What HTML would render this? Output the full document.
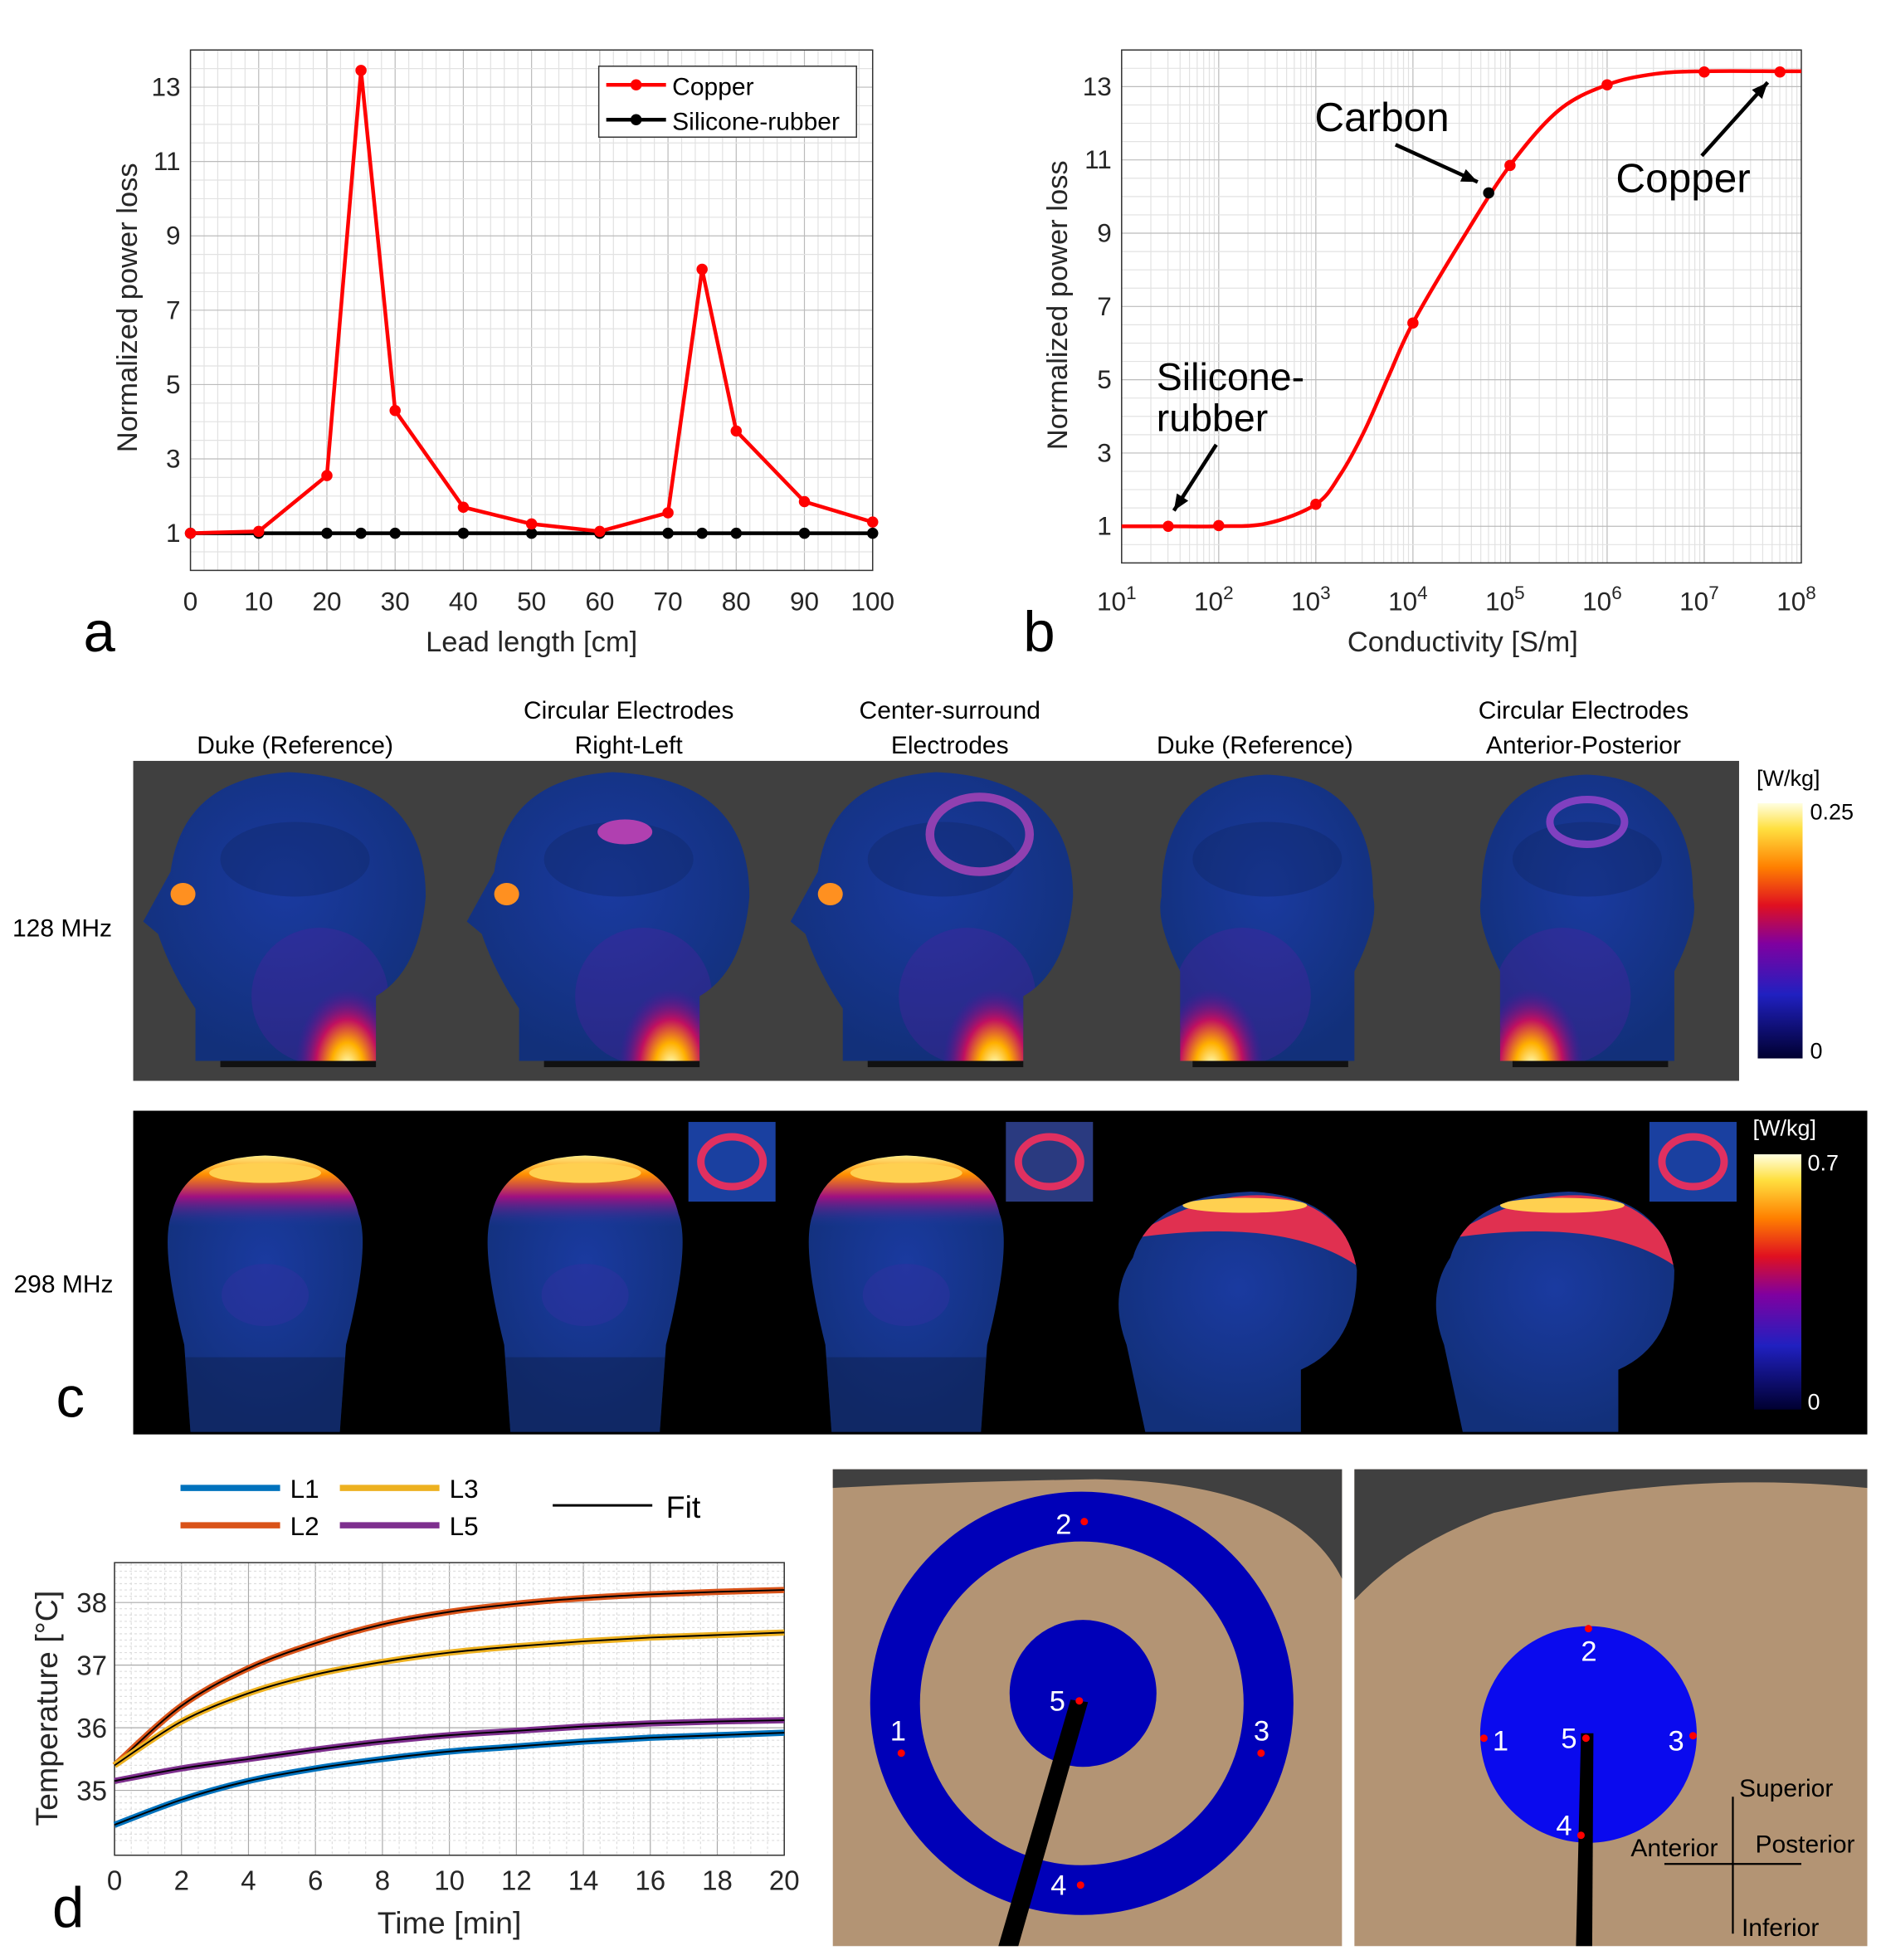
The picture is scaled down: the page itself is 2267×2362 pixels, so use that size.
<!DOCTYPE html>
<html><head><meta charset="utf-8"><style>
html,body{margin:0;padding:0;background:#fff}
svg{display:block;font-family:"Liberation Sans","DejaVu Sans",sans-serif}
</style></head><body>
<svg id="s" xmlns="http://www.w3.org/2000/svg" width="2267" height="2362" viewBox="0 0 1511 1574">
<defs id="defs">
<linearGradient id="cb1" x1="0" y1="1" x2="0" y2="0"><stop offset="0" stop-color="#000030"/><stop offset="0.25" stop-color="#2020c0"/><stop offset="0.45" stop-color="#8000a0"/><stop offset="0.6" stop-color="#e01020"/><stop offset="0.75" stop-color="#ff8000"/><stop offset="0.9" stop-color="#ffe040"/><stop offset="1" stop-color="#ffffe0"/></linearGradient>
<radialGradient id="hb" cx="0.5" cy="0.4" r="0.6"><stop offset="0" stop-color="#1a3aa0"/><stop offset="1" stop-color="#12307a"/></radialGradient>
<radialGradient id="hot2" cx="0.5" cy="0.5" r="0.5"><stop offset="0" stop-color="#ffffc0"/><stop offset="0.3" stop-color="#ffb000"/><stop offset="0.6" stop-color="#c01060"/><stop offset="1" stop-color="#5010a0" stop-opacity="0"/></radialGradient>
<linearGradient id="cap" x1="0" y1="0" x2="0" y2="1"><stop offset="0" stop-color="#ffffa0"/><stop offset="0.3" stop-color="#ff9000"/><stop offset="0.6" stop-color="#a01080"/><stop offset="1" stop-color="#1a3aa0" stop-opacity="0"/></linearGradient>
</defs>
<g id="pa"></g><g id="pb"></g><g id="pc"></g><g id="pd"></g><g id="pe"></g>
</svg>
<script>
const NS="http://www.w3.org/2000/svg";
function E(p,t,a,txt){const e=document.createElementNS(NS,t);for(const k in a)e.setAttribute(k,a[k]);if(txt!==undefined)e.textContent=txt;p.appendChild(e);return e;}
// ---- data panel a
const aX=[0,10,20,25,30,40,50,60,70,75,80,90,100];
const aCopper=[1,1.05,2.55,13.45,4.3,1.7,1.25,1.05,1.55,8.1,3.75,1.85,1.3];
const aSilicone=[1,1,1,1,1,1,1,1,1,1,1,1,1];
const aXTicks=[0,10,20,30,40,50,60,70,80,90,100];
const yTicks=[1,3,5,7,9,11,13];
// ---- data panel b
const bCurveLog=[1,1.5,2,2.5,3,3.25,3.5,3.75,4,4.5,5,5.5,6,6.5,7,7.8,8];
const bCurveVal=[1,1,1.0,1.08,1.6,2.4,3.6,5.1,6.55,8.8,10.85,12.35,13.05,13.35,13.42,13.42,13.42];
const bPtsLog=[1.48,2,3,4,5,6,7,7.78];
const bPtsVal=[1.0,1.02,1.6,6.55,10.85,13.05,13.4,13.4];
const bCarbonLog=[4.78], bCarbonVal=[10.1];
const bXTicks=[1,2,3,4,5,6,7,8];
// ---- data panel d
const dT=[0,2,4,6,8,10,12,14,16,18,20];
const dL1=[34.45,34.85,35.15,35.35,35.5,35.62,35.7,35.78,35.84,35.88,35.92];
const dL2=[35.4,36.35,36.95,37.35,37.65,37.85,37.98,38.07,38.13,38.17,38.2];
const dL3=[35.4,36.1,36.55,36.85,37.05,37.2,37.3,37.38,37.44,37.48,37.52];
const dL5=[35.15,35.35,35.5,35.65,35.78,35.88,35.95,36.02,36.07,36.1,36.12];
const dXTicks=[0,2,4,6,8,10,12,14,16,18,20];
const dYTicks=[35,36,37,38];

function smooth(pts){let d="M"+pts[0][0]+","+pts[0][1];for(let i=0;i<pts.length-1;i++){const p0=pts[i-1]||pts[i],p1=pts[i],p2=pts[i+1],p3=pts[i+2]||p2;d+=` C${p1[0]+(p2[0]-p0[0])/6},${p1[1]+(p2[1]-p0[1])/6} ${p2[0]-(p3[0]-p1[0])/6},${p2[1]-(p3[1]-p1[1])/6} ${p2[0]},${p2[1]}`;}return d;}
const defs=document.getElementById('defs');let clipN=0;
function clipGroup(parent,d){const id='cp'+(clipN++);const cp=E(defs,'clipPath',{id:id});E(cp,'path',{d:d});E(parent,'path',{d:d,fill:'url(#hb)'});return E(parent,'g',{'clip-path':`url(#${id})`});}

// ===== Panel a
(function(){
const g=document.getElementById('pa');
const L=153,R=701,T=40,B=458;const X=v=>L+(v/100)*(R-L);const Y=v=>B-(v/14)*(B-T);
E(g,'rect',{x:L,y:T,width:R-L,height:B-T,fill:'#fff'});
for(let v=0;v<=100;v+=2){E(g,'line',{x1:X(v),x2:X(v),y1:T,y2:B,stroke:v%10==0?'#bbb':'#e2e2e2','stroke-width':0.8});}
for(let v=0;v<=14;v+=0.5){E(g,'line',{x1:L,x2:R,y1:Y(v),y2:Y(v),stroke:(v%2==1)?'#bbb':'#e2e2e2','stroke-width':0.8});}
E(g,'rect',{x:L,y:T,width:R-L,height:B-T,fill:'none',stroke:'#333','stroke-width':1});
aXTicks.forEach(v=>{const t=E(g,'text',{x:X(v),y:490,'text-anchor':'middle','font-size':21,fill:'#262626'},v);});
yTicks.forEach(v=>{const t=E(g,'text',{x:145,y:Y(v)+7,'text-anchor':'end','font-size':21,fill:'#262626'},v);});
const xt=E(g,'text',{x:427,y:523,'text-anchor':'middle','font-size':23,fill:'#262626'},'Lead length [cm]');
const yt=E(g,'text',{x:0,y:0,transform:`translate(110,247) rotate(-90)`,'text-anchor':'middle','font-size':23,fill:'#262626'},'Normalized power loss');
const sl=E(g,'polyline',{points:aX.map((x,i)=>X(x)+','+Y(aSilicone[i])).join(' '),fill:'none',stroke:'#000','stroke-width':3});
aX.forEach((x,i)=>{const c=E(g,'circle',{cx:X(x),cy:Y(aSilicone[i]),r:4.5,fill:'#000'});});
const cl=E(g,'polyline',{points:aX.map((x,i)=>X(x)+','+Y(aCopper[i])).join(' '),fill:'none',stroke:'#f00','stroke-width':3});
aX.forEach((x,i)=>{const c=E(g,'circle',{cx:X(x),cy:Y(aCopper[i]),r:4.5,fill:'#f00'});});
const lg=E(g,'g',{});
E(lg,'rect',{x:481,y:53,width:207,height:57,fill:'#fff',stroke:'#333'});
E(lg,'line',{x1:487,x2:535,y1:68,y2:68,stroke:'#f00','stroke-width':3});E(lg,'circle',{cx:511,cy:68,r:4.5,fill:'#f00'});
E(lg,'text',{x:540,y:76,'font-size':20},'Copper');
E(lg,'line',{x1:487,x2:535,y1:96,y2:96,stroke:'#000','stroke-width':3});E(lg,'circle',{cx:511,cy:96,r:4.5,fill:'#000'});
E(lg,'text',{x:540,y:104,'font-size':20},'Silicone-rubber');
E(g,'text',{x:67,y:523,'font-size':46},'a');
})();

// ===== Panel b
(function(){
const g=document.getElementById('pb');
const L=901,R=1447,T=40,B=452;const X=v=>L+((v-1)/7)*(R-L);const Y=v=>B-(v/14)*(B-T);
E(g,'rect',{x:L,y:T,width:R-L,height:B-T,fill:'#fff'});
for(let d=1;d<8;d++)for(let k=1;k<10;k++){const v=d+Math.log10(k);E(g,'line',{x1:X(v),x2:X(v),y1:T,y2:B,stroke:k==1?'#bbb':'#e2e2e2','stroke-width':0.8});}
for(let v=0;v<=14;v+=0.5){E(g,'line',{x1:L,x2:R,y1:Y(v),y2:Y(v),stroke:(v%2==1)?'#bbb':'#e2e2e2','stroke-width':0.8});}
E(g,'rect',{x:L,y:T,width:R-L,height:B-T,fill:'none',stroke:'#333'});
bXTicks.forEach(v=>{const t=E(g,'text',{x:X(v)-4,y:490,'text-anchor':'middle','font-size':21,fill:'#262626'});
E(t,'tspan',{},'10');E(t,'tspan',{dy:-9,'font-size':15},v);});
yTicks.forEach(v=>{const t=E(g,'text',{x:893,y:Y(v)+7,'text-anchor':'end','font-size':21,fill:'#262626'},v);});
const xt=E(g,'text',{x:1175,y:523,'text-anchor':'middle','font-size':23,fill:'#262626'},'Conductivity [S/m]');
const yt=E(g,'text',{x:0,y:0,transform:`translate(857,245) rotate(-90)`,'text-anchor':'middle','font-size':23,fill:'#262626'},'Normalized power loss');
const c=E(g,'path',{d:smooth(bCurveLog.map((x,i)=>[X(x),Y(bCurveVal[i])])),fill:'none',stroke:'#f00','stroke-width':3});
bPtsLog.forEach((x,i)=>{const p=E(g,'circle',{cx:X(x),cy:Y(bPtsVal[i]),r:4.5,fill:'#f00'});});
bCarbonLog.forEach((x,i)=>{const p=E(g,'circle',{cx:X(x),cy:Y(bCarbonVal[i]),r:4.5,fill:'#000'});});
E(g,'text',{x:1056,y:105,'font-size':33},'Carbon');
E(g,'text',{x:1298,y:154,'font-size':33},'Copper');
E(g,'text',{x:929,y:313,'font-size':31},'Silicone-');E(g,'text',{x:929,y:346,'font-size':31},'rubber');
[[1121,116,1187,146],[1367,125,1420,66],[977,357,943,410]].forEach(a=>{E(g,'line',{x1:a[0],y1:a[1],x2:a[2],y2:a[3],stroke:'#000','stroke-width':3});const ang=Math.atan2(a[3]-a[1],a[2]-a[0]);const s=14;E(g,'polygon',{points:`${a[2]},${a[3]} ${a[2]-s*Math.cos(ang-0.4)},${a[3]-s*Math.sin(ang-0.4)} ${a[2]-s*Math.cos(ang+0.4)},${a[3]-s*Math.sin(ang+0.4)}`,fill:'#000'});});
E(g,'text',{x:822,y:523,'font-size':46},'b');
})();

// ===== Panel c
(function(){
const g=document.getElementById('pc');
const titles=[[237,null,'Duke (Reference)'],[505,'Circular Electrodes','Right-Left'],[763,'Center-surround','Electrodes'],[1008,null,'Duke (Reference)'],[1272,'Circular Electrodes','Anterior-Posterior']];
titles.forEach(t=>{if(t[1])E(g,'text',{x:t[0],y:577,'text-anchor':'middle','font-size':20},t[1]);E(g,'text',{x:t[0],y:605,'text-anchor':'middle','font-size':20},t[2]);});
E(g,'rect',{x:107,y:611,width:1290,height:257,fill:'#404040'});
E(g,'text',{x:10,y:752,'font-size':20},'128 MHz');
const cx=[237,497,757,1018,1275];
cx.forEach((x,i)=>{const h=E(g,'g',{});
E(h,'rect',{x:x-60,y:852,width:125,height:5,fill:'#111'});
const prof=i<3;
const d=prof?`M${x-80},852 L${x-80},810 Q${x-100},780 ${x-110},750 L${x-122},740 L${x-100},700 Q${x-90},625 ${x-5},620 Q${x+105},625 ${x+105},720 Q${x+100},780 ${x+65},800 L${x+65},852 Z`:`M${x-70},852 L${x-70},780 Q${x-90},740 ${x-85},720 Q${x-85},625 ${x},622 Q${x+85},625 ${x+85},720 Q${x+90},740 ${x+70},780 L${x+70},852 Z`;
const cg=clipGroup(h,d);
E(cg,'ellipse',{cx:x,cy:690,rx:60,ry:30,fill:'#0d2560',opacity:0.35});
E(cg,'ellipse',{cx:x+(prof?20:-20),cy:800,rx:55,ry:55,fill:'#5020a0',opacity:0.35});
E(cg,'ellipse',{cx:x+(prof?42:-45),cy:856,rx:42,ry:62,fill:'url(#hot2)'});
if(prof){E(cg,'ellipse',{cx:x-90,cy:718,rx:10,ry:9,fill:'#ff9020'});}
if(i==1)E(cg,'ellipse',{cx:x+5,cy:668,rx:22,ry:10,fill:'#b040b0'});
if(i==2){E(cg,'ellipse',{cx:x+30,cy:670,rx:40,ry:30,fill:'none',stroke:'#9040b0','stroke-width':7});}
if(i==4){E(cg,'ellipse',{cx:x,cy:660,rx:30,ry:18,fill:'none',stroke:'#8040c0','stroke-width':6});}
});
const cb=E(g,'g',{});
E(cb,'rect',{x:1412,y:645,width:36,height:205,fill:'url(#cb1)'});
E(cb,'text',{x:1411,y:631,'font-size':18},'[W/kg]');E(cb,'text',{x:1454,y:658,'font-size':18},'0.25');E(cb,'text',{x:1454,y:850,'font-size':18},'0');
E(g,'rect',{x:107,y:892,width:1393,height:260,fill:'#000'});
E(g,'text',{x:11,y:1038,'font-size':20},'298 MHz');
[213,470,728].forEach(x=>{const h=E(g,'g',{});
const d=`M${x-60},1150 L${x-65},1080 Q${x-85},1000 ${x-75},975 Q${x-65},930 ${x},928 Q${x+65},930 ${x+75},975 Q${x+85},1000 ${x+65},1080 L${x+60},1150 Z`;
const cg=clipGroup(h,d);
E(cg,'rect',{x:x-90,y:925,width:180,height:60,fill:'url(#cap)'});
E(cg,'ellipse',{cx:x,cy:942,rx:45,ry:8,fill:'#ffd050'});
E(cg,'ellipse',{cx:x,cy:1040,rx:35,ry:25,fill:'#3030a0',opacity:0.5});
E(cg,'rect',{x:x-90,y:1090,width:180,height:60,fill:'#0d2050',opacity:0.5});});
[1005,1260].forEach(x=>{const h=E(g,'g',{});
const d=`M${x-85},1150 L${x-100},1080 Q${x-115},1040 ${x-95},1010 Q${x-80},960 ${x},957 Q${x+75},960 ${x+85},1020 Q${x+85},1080 ${x+40},1100 L${x+40},1150 Z`;
const cg=clipGroup(h,d);
E(cg,'path',{d:`M${x-100},995 Q${x-40},958 ${x+10},960 Q${x+70},963 ${x+90},1020 Q${x+30},975 ${x-100},995 Z`,fill:'#e03050'});
E(cg,'ellipse',{cx:x-5,cy:968,rx:50,ry:6,fill:'#ffd050'});});
[[553,'#1a40a0'],[808,'#2a3a80'],[1325,'#1a40a0']].forEach(a=>{const r=E(g,'rect',{x:a[0],y:901,width:70,height:64,fill:a[1]});E(g,'ellipse',{cx:a[0]+35,cy:933,rx:25,ry:20,fill:'none',stroke:'#e03060','stroke-width':6});});
const cb2=E(g,'g',{});
E(cb2,'rect',{x:1409,y:927,width:38,height:205,fill:'url(#cb1)'});
E(cb2,'text',{x:1408,y:912,'font-size':18,fill:'#fff'},'[W/kg]');E(cb2,'text',{x:1452,y:940,'font-size':18,fill:'#fff'},'0.7');E(cb2,'text',{x:1452,y:1132,'font-size':18,fill:'#fff'},'0');
E(g,'text',{x:45,y:1138,'font-size':46},'c');
})();

// ===== Panel d
(function(){
const g=document.getElementById('pd');
const L=92,R=630,T=1255,B=1490;const X=v=>L+(v/20)*(R-L);const Y=v=>1287+(38-v)*50.3;
E(g,'rect',{x:L,y:T,width:R-L,height:B-T,fill:'#fff'});
for(let v=0;v<=20;v+=0.5)E(g,'line',{x1:X(v),x2:X(v),y1:T,y2:B,stroke:v%2==0?'#aaa':'#ddd','stroke-width':0.8,'stroke-dasharray':v%2==0?'':'2,2'});
for(let v=34.2;v<=38.7;v+=0.1){const m=Math.abs(v-Math.round(v))<0.01;E(g,'line',{x1:L,x2:R,y1:Y(v),y2:Y(v),stroke:m?'#aaa':'#ddd','stroke-width':0.8,'stroke-dasharray':m?'':'2,2'});}
E(g,'rect',{x:L,y:T,width:R-L,height:B-T,fill:'none',stroke:'#333'});
dXTicks.forEach(v=>{const t=E(g,'text',{x:X(v),y:1518,'text-anchor':'middle','font-size':22,fill:'#262626'},v);});
dYTicks.forEach(v=>{const t=E(g,'text',{x:86,y:Y(v)+8,'text-anchor':'end','font-size':22,fill:'#262626'},v);});
const xt=E(g,'text',{x:361,y:1553,'text-anchor':'middle','font-size':25,fill:'#262626'},'Time [min]');
const yt=E(g,'text',{x:0,y:0,transform:'translate(46,1372) rotate(-90)','text-anchor':'middle','font-size':25,fill:'#262626'},'Temperature [°C]');
[[dL1,'#0072bd','l1'],[dL2,'#d95319','l2'],[dL3,'#edb120','l3'],[dL5,'#7e2f8e','l5']].forEach(s=>{const pts=dT.map((t,i)=>[X(t),Y(s[0][i])]);
const p=E(g,'path',{d:smooth(pts),fill:'none',stroke:s[1],'stroke-width':5});
const f=E(g,'path',{d:smooth(pts),fill:'none',stroke:'#000','stroke-width':1.3});});
const lg=E(g,'g',{});
[[145,1195,'#0072bd','L1'],[145,1225,'#d95319','L2'],[273,1195,'#edb120','L3'],[273,1225,'#7e2f8e','L5']].forEach(a=>{E(lg,'line',{x1:a[0],x2:a[0]+80,y1:a[1],y2:a[1],stroke:a[2],'stroke-width':5});E(lg,'text',{x:a[0]+88,y:a[1]+8,'font-size':21},a[3]);});
E(lg,'line',{x1:444,x2:524,y1:1209,y2:1209,stroke:'#000','stroke-width':2});E(lg,'text',{x:535,y:1219,'font-size':25},'Fit');
E(g,'text',{x:42,y:1548,'font-size':46},'d');
})();

// ===== Electrode panels
(function(){
const g=document.getElementById('pe');
const p1=E(g,'g',{});
E(p1,'rect',{x:669,y:1180,width:409,height:383,fill:'#b39474'});
E(p1,'path',{d:'M669,1180 L1078,1180 L1078,1268 Q1040,1190 880,1188 Q760,1190 669,1195 Z',fill:'#404040'});
E(p1,'circle',{cx:869,cy:1368,r:150,fill:'none',stroke:'#0000b8','stroke-width':40});
E(p1,'circle',{cx:870,cy:1360,r:59,fill:'#0000b8'});
E(p1,'polygon',{points:'860,1365 874,1367 818,1563 802,1563',fill:'#000'});
[[871,1222,'2',-23,10],[724,1408,'1',-9,-10],[1013,1408,'3',-6,-10],[868,1514,'4',-24,8],[867,1366,'5',-24,8]].forEach(a=>{E(p1,'circle',{cx:a[0],cy:a[1],r:3,fill:'#f00'});E(p1,'text',{x:a[0]+a[3],y:a[1]+a[4],'font-size':23,fill:'#fff'},a[2]);});
const p2=E(g,'g',{});
E(p2,'rect',{x:1088,y:1180,width:412,height:383,fill:'#b39474'});
E(p2,'path',{d:'M1088,1180 L1500,1180 L1500,1195 Q1350,1180 1200,1215 Q1130,1240 1088,1285 Z',fill:'#404040'});
E(p2,'circle',{cx:1276,cy:1393,r:87,fill:'#0a0aee'});
E(p2,'polygon',{points:'1270,1392 1280,1392 1279,1563 1266,1563',fill:'#000'});
[[1276,1308,'2',-6,26],[1192,1396,'1',7,10],[1360,1394,'3',-20,12],[1270,1474,'4',-20,0],[1274,1396,'5',-20,8]].forEach(a=>{E(p2,'circle',{cx:a[0],cy:a[1],r:3,fill:'#f00'});E(p2,'text',{x:a[0]+a[3],y:a[1]+a[4],'font-size':23,fill:'#fff'},a[2]);});
const ax=E(g,'g',{});
E(ax,'line',{x1:1392,y1:1443,x2:1392,y2:1553,stroke:'#000','stroke-width':1.5});E(ax,'line',{x1:1337,y1:1497,x2:1447,y2:1497,stroke:'#000','stroke-width':1.5});
E(ax,'text',{x:1397,y:1443,'font-size':20},'Superior');E(ax,'text',{x:1399,y:1555,'font-size':20},'Inferior');
E(ax,'text',{x:1310,y:1491,'font-size':20},'Anterior');E(ax,'text',{x:1410,y:1488,'font-size':20},'Posterior');
})();
</script>
</body></html>
